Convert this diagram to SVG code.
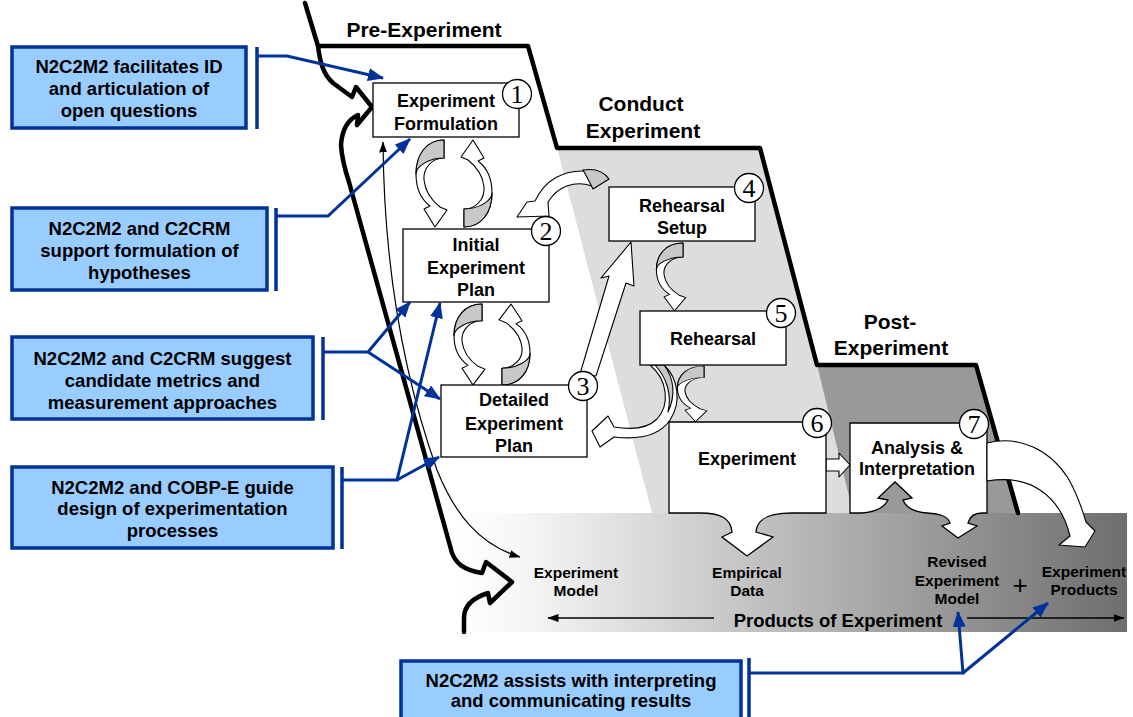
<svg xmlns="http://www.w3.org/2000/svg" xmlns:xlink="http://www.w3.org/1999/xlink" width="1133" height="717" viewBox="0 0 1133 717">
<style>
.blue{fill:#99ccff;stroke:#003399;stroke-width:3.5}
.bl{fill:none;stroke:#003399;stroke-width:3}
.bar{stroke:#003399;stroke-width:3.5}
.node{fill:#fff;stroke:#000;stroke-width:1.3}
.wa{fill:#fff;stroke:#000;stroke-width:1.1;stroke-linejoin:round}
.ga{fill:#c8c8c8;stroke:#000;stroke-width:1.1;stroke-linejoin:round}
.t{font-family:'Liberation Sans',Arial,sans-serif;font-weight:bold;text-anchor:middle;fill:#000}
.ct{font-size:18.5px}
.nt{font-size:18px}
.ht{font-size:21px}
.bt{font-size:15.5px}
.num{font-family:'Liberation Serif','Times New Roman',serif;font-size:26px;text-anchor:middle}
.thick{fill:none;stroke:#000;stroke-width:4.5;stroke-linejoin:round;stroke-linecap:round}
</style>
<defs>
<linearGradient id="band" x1="0" y1="0" x2="1" y2="0">
<stop offset="0" stop-color="#ffffff"/>
<stop offset="0.1" stop-color="#f6f6f6"/>
<stop offset="1" stop-color="#6e6e6e"/>
</linearGradient>
<marker id="ba" markerUnits="userSpaceOnUse" markerWidth="16" markerHeight="13" viewBox="0 0 16 13" refX="15" refY="6.5" orient="auto">
<path d="M0,0 L16,6.5 L0,13 Z" fill="#003399"/>
</marker>
<marker id="ka" markerUnits="userSpaceOnUse" markerWidth="11" markerHeight="8" viewBox="0 0 11 8" refX="10.5" refY="4" orient="auto-start-reverse">
<path d="M0,0 L11,4 L0,8 Z" fill="#000"/>
</marker>
<g id="cyc">
<path class="wa" d="M0,0 C-17,0 -28,14 -28,34 C-28,50 -22,60 -14,66 L-20,69 L-9,87 L3,70 L-4,67 C-13,60 -19,50 -20,40 C-21,28 -12,18 0,18 Z"/>
<path class="ga" d="M0,0 C-17,0 -28,14 -28,34 C-28,27 -16,18 0,18 Z"/>
</g>
</defs>
<rect width="1133" height="717" fill="#fff"/>
<g id="regions">
<polygon points="557,148 760,148 817,365 853,513 652,513" fill="#dddddd"/>
<polygon points="817,365 976,365 1018,513 853,513" fill="#999999"/>
<rect x="455" y="513" width="672" height="119" fill="url(#band)"/>
</g>
<g id="outline">
<path class="thick" d="M318,46 L528,46 L557,148 L760,148 L817,365 L976,365 L1018,513"/>
<path class="thick" d="M305,3 L318,46 C320,62 323,74 333,83 L352,97 L356,87 L372,107 L357,125 L358,115 C347,120 342,130 341,145 C342,160 345,170 349,182 L452,553 C456,563 463,570 482,573 L486,562 L512,582 L490,603 L488,593 C472,598 464,606 464,618 L464,632"/>
</g>
<g id="headings">
<text class="t ht" x="424" y="36.5">Pre-Experiment</text>
<text class="t ht" x="641" y="110.5">Conduct</text>
<text class="t ht" x="643" y="137.5">Experiment</text>
<text class="t ht" x="890" y="328.5">Post-</text>
<text class="t ht" x="891" y="354.5">Experiment</text>
</g>
<g id="connectors">
<path d="M383,142 C384,270 405,380 437,470 C455,515 480,545 520,557" fill="none" stroke="#000" stroke-width="1.2" marker-start="url(#ka)" marker-end="url(#ka)"/>
<use xlink:href="#cyc" href="#cyc" transform="translate(444,140)"/>
<use xlink:href="#cyc" href="#cyc" transform="translate(464,227) rotate(180)"/>
<use xlink:href="#cyc" href="#cyc" transform="translate(482,304) scale(1,0.93)"/>
<use xlink:href="#cyc" href="#cyc" transform="translate(502,385) rotate(180) scale(1,0.93)"/>
<use xlink:href="#cyc" href="#cyc" transform="translate(683,243) scale(0.95,0.78)"/>
<use xlink:href="#cyc" href="#cyc" transform="translate(704,366) scale(0.95,0.64)"/>
<path class="wa" d="M592,186 C575,180 558,186 548,202 L549,216 L517,217 L527,202 L535,201 C545,180 563,170 585,171 Z"/>
<path class="ga" d="M583,170 C595,168 604,172 609,179 L593,189 C590,183 587,177 583,170 Z"/>
<path class="wa" d="M580,374 L609,276 L601,278 L631,242 L634,286 L626,283 L596,376 Z"/>
<path class="wa" d="M650,365 C668,380 670,405 657,419 C648,428 632,430 614,427 L608,416 L592,431 L600,447 L614,437 C640,440 660,435 670,420 C682,402 678,378 664,365 Z"/>
<path class="ga" d="M655,365 C667,378 672,395 668,412 C676,395 674,378 664,365 Z"/>
<path class="wa" d="M826,459 H839 V453 L850,465 L839,477 V471 H826 Z"/>
</g>
<g id="n1">
<rect class="node" x="373" y="83" width="146" height="54"/>
<text class="t nt" x="446" y="106.5">Experiment</text>
<text class="t nt" x="446" y="129.5">Formulation</text>
<circle class="node" cx="517" cy="94" r="14.5"/>
<text class="num" x="517" y="103">1</text>
</g>
<g id="n2">
<rect class="node" x="403" y="229" width="146" height="73"/>
<text class="t nt" x="476" y="250.5">Initial</text>
<text class="t nt" x="476" y="273.5">Experiment</text>
<text class="t nt" x="476" y="295.5">Plan</text>
<circle class="node" cx="546" cy="231" r="14.5"/>
<text class="num" x="546" y="240">2</text>
</g>
<g id="n3">
<rect class="node" x="441" y="385" width="146" height="72"/>
<text class="t nt" x="514" y="405.5">Detailed</text>
<text class="t nt" x="514" y="429.5">Experiment</text>
<text class="t nt" x="514" y="451.5">Plan</text>
<circle class="node" cx="583" cy="386" r="14.5"/>
<text class="num" x="583" y="395">3</text>
</g>
<g id="n4">
<rect class="node" x="609" y="187" width="146" height="54"/>
<text class="t nt" x="682" y="211.5">Rehearsal</text>
<text class="t nt" x="682" y="233.5">Setup</text>
<circle class="node" cx="749" cy="188" r="14.5"/>
<text class="num" x="749" y="197">4</text>
</g>
<g id="n5">
<rect class="node" x="640" y="311" width="146" height="54"/>
<text class="t nt" x="713" y="344.5">Rehearsal</text>
<circle class="node" cx="781" cy="313" r="14.5"/>
<text class="num" x="781" y="322">5</text>
</g>
<g id="n6">
<path class="node" d="M669,422 H826 V513 H792 C770,513 757,518 756,532 L773,537 L747,556 L722,537 L732,532 C731,518 720,513 700,513 H669 Z"/>
<text class="t nt" x="747" y="464.5">Experiment</text>
<circle class="node" cx="817" cy="423" r="14.5"/>
<text class="num" x="817" y="432">6</text>
</g>
<g id="n7">
<path class="node" d="M850,423 H987 V513 H982 C975,513 970,516 968,523 L977,526 L958,538 L942,526 L950,523 C948,516 940,514 927,513 C915,512 906,508 903,500 L912,498 L895,482 L878,498 L888,500 C884,508 875,512 862,513 H850 Z"/>
<text class="t nt" x="917" y="453.5">Analysis &amp;</text>
<text class="t nt" x="917" y="474.5">Interpretation</text>
<circle class="node" cx="974" cy="424" r="14.5"/>
<text class="num" x="974" y="433">7</text>
<path class="wa" d="M987,443 C1020,435 1050,450 1068,478 C1076,492 1081,505 1086,522 L1095,531 L1085,547 L1059,545 L1070,536 C1065,515 1055,500 1040,490 C1025,480 1005,478 987,481 Z"/>
</g>
<g id="products">
<text class="t bt" x="576" y="577.5">Experiment</text>
<text class="t bt" x="576" y="595.5">Model</text>
<text class="t bt" x="747" y="577.5">Empirical</text>
<text class="t bt" x="747" y="595.5">Data</text>
<text class="t bt" x="957" y="566.5">Revised</text>
<text class="t bt" x="957" y="585.5">Experiment</text>
<text class="t bt" x="957" y="603.5">Model</text>
<text x="1020" y="594" font-family="'Liberation Sans',Arial,sans-serif" font-size="26" text-anchor="middle">+</text>
<text class="t bt" x="1084" y="576.5">Experiment</text>
<text class="t bt" x="1084" y="594.5">Products</text>
<text class="t ct" x="838" y="626.5">Products of Experiment</text>
<line x1="714" y1="618" x2="548" y2="618" stroke="#000" stroke-width="1.5" marker-end="url(#ka)"/>
<line x1="967" y1="618" x2="1124" y2="618" stroke="#000" stroke-width="1.5" marker-end="url(#ka)"/>
</g>
<g id="c1">
<rect class="blue" x="12" y="47" width="234" height="81"/>
<text class="t ct" x="129" y="73">N2C2M2 facilitates ID</text>
<text class="t ct" x="129" y="95">and articulation of</text>
<text class="t ct" x="129" y="117">open questions</text>
</g>
<g id="c2">
<rect class="blue" x="12" y="208" width="255" height="82"/>
<text class="t ct" x="139.5" y="234.5">N2C2M2 and C2CRM</text>
<text class="t ct" x="139.5" y="256.5">support formulation of</text>
<text class="t ct" x="139.5" y="278.5">hypotheses</text>
</g>
<g id="c3">
<rect class="blue" x="12" y="337" width="301" height="82"/>
<text class="t ct" x="162.5" y="364.5">N2C2M2 and C2CRM suggest</text>
<text class="t ct" x="162.5" y="386.5">candidate metrics and</text>
<text class="t ct" x="162.5" y="408.5">measurement approaches</text>
</g>
<g id="c4">
<rect class="blue" x="12" y="467" width="321" height="81"/>
<text class="t ct" x="172.5" y="493.5">N2C2M2 and COBP-E guide</text>
<text class="t ct" x="172.5" y="514.5">design of experimentation</text>
<text class="t ct" x="172.5" y="536.5">processes</text>
</g>
<g id="c5">
<rect class="blue" x="401" y="661" width="340" height="60"/>
<text class="t ct" x="571" y="686.5">N2C2M2 assists with interpreting</text>
<text class="t ct" x="571" y="706.5">and communicating results</text>
</g>
<g id="blue-connectors">
<line class="bar" x1="257" y1="47" x2="257" y2="129"/>
<path class="bl" d="M257,56 H287 L383,78" marker-end="url(#ba)"/>
<line class="bar" x1="276" y1="208" x2="276" y2="291"/>
<path class="bl" d="M276,216 H328 L410,139" marker-end="url(#ba)"/>
<line class="bar" x1="323" y1="337" x2="323" y2="420"/>
<path class="bl" d="M323,352 H368 L410,302" marker-end="url(#ba)"/>
<path class="bl" d="M368,352 L440,399" marker-end="url(#ba)"/>
<line class="bar" x1="342" y1="467" x2="342" y2="549"/>
<path class="bl" d="M342,480 H397 L440,303" marker-end="url(#ba)"/>
<path class="bl" d="M397,480 L439,457" marker-end="url(#ba)"/>
<line class="bar" x1="749" y1="658" x2="749" y2="717"/>
<path class="bl" d="M749,673 H963 L958,612" marker-end="url(#ba)"/>
<path class="bl" d="M963,673 L1048,603" marker-end="url(#ba)"/>
</g>
</svg>
